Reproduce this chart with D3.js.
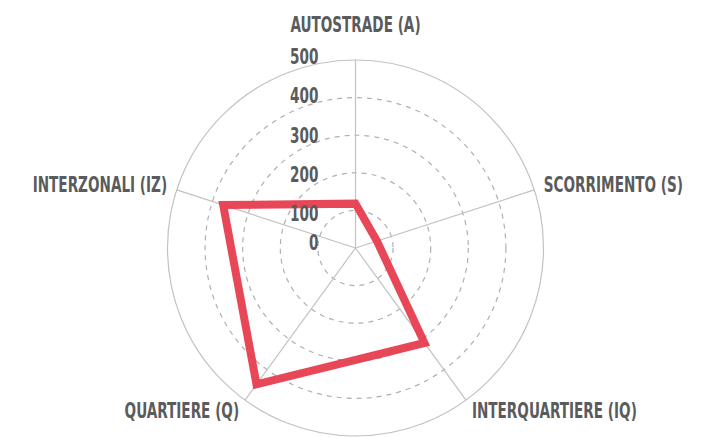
<!DOCTYPE html>
<html>
<head>
<meta charset="utf-8">
<script src="https://cdn.jsdelivr.net/npm/d3@7"></script>
<style>
  html, body { margin: 0; padding: 0; background: #fff; }
  text { font-family: "DejaVu Sans Condensed", "Liberation Sans Narrow", sans-serif; font-weight: bold; fill: #5a5b5d; }
</style>
</head>
<body>
<div id="chart"></div>
<script>
// axes of the radar, clockwise from the top
const axes = ['AUTOSTRADE (A)', 'SCORRIMENTO (S)', 'INTERQUARTIERE (IQ)', 'QUARTIERE (Q)', 'INTERZONALI (IZ)'];
const values = [118, 60, 312, 448, 370];
const ticks = [0, 100, 200, 300, 400, 500];

const width = 726, height = 437;
const cx = 355.5, cy = 248, R = 188;
const squeeze = 0.72; // condensed look of the labels

const svg = d3.select('#chart').append('svg')
    .attr('width', width)
    .attr('height', height);

const container = svg.append('g')
    .attr('transform', `translate(${cx}, ${cy})`);

const rScale = d3.scaleLinear().domain([0, 500]).range([0, R]);
const angle = d3.scaleLinear().domain([0, axes.length]).range([0, 2 * Math.PI]);

// grid circles: dashed inside, solid at the edge
container.selectAll('.grid')
    .data(ticks.filter(t => t > 0))
    .join('circle')
    .attr('class', 'grid')
    .attr('r', d => rScale(d))
    .attr('fill', 'none')
    .attr('stroke', d => d === 500 ? '#c2c2c2' : '#b0b0b0')
    .attr('stroke-width', 1.2)
    .attr('stroke-dasharray', d => d === 500 ? null : '5,5');

// spokes
container.selectAll('.spoke')
    .data(axes)
    .join('line')
    .attr('class', 'spoke')
    .attr('x1', 0).attr('y1', 0)
    .attr('x2', (d, i) => Math.sin(angle(i)) * rScale(500))
    .attr('y2', (d, i) => -Math.cos(angle(i)) * rScale(500))
    .attr('stroke', '#c2c2c2')
    .attr('stroke-width', 1.2);

// data polygon
const line = d3.lineRadial()
    .angle((d, i) => angle(i))
    .radius(d => rScale(d))
    .curve(d3.curveLinearClosed);

container.append('path')
    .datum(values)
    .attr('d', line)
    .attr('fill', 'none')
    .attr('stroke', '#e6374a')
    .attr('stroke-opacity', 0.92)
    .attr('stroke-width', 8)
    .attr('stroke-linejoin', 'miter');

// tick labels to the left of the top spoke (lower ones sit a bit below their ring)
container.selectAll('.tick-label')
    .data(ticks)
    .join('text')
    .attr('class', 'tick-label')
    .attr('transform', d => `translate(-37, ${-rScale(d) + (d === 0 ? 2 : 12.75 - d * 0.0175)}) scale(${squeeze}, 1)`)
    .attr('text-anchor', 'end')
    .style('font-size', '21px')
    .text(d => d);

// axis labels
const pad = 10;
container.selectAll('.axis-label')
    .data(axes)
    .join('text')
    .attr('class', 'axis-label')
    .attr('transform', function (d, i) {
        const s = Math.sin(angle(i)), c = Math.cos(angle(i));
        const x = s * (R + pad);
        let y = -c * (R + pad);
        if (c > 0.9) y -= 18;
        else if (c < 0) y += 10;
        else y += 5;
        return `translate(${x}, ${y}) scale(${squeeze}, 1)`;
    })
    .attr('text-anchor', (d, i) => {
        const s = Math.sin(angle(i));
        return Math.abs(s) < 0.01 ? 'middle' : (s > 0 ? 'start' : 'end');
    })
    .style('font-size', '21px')
    .text(d => d);
</script>
</body>
</html>
